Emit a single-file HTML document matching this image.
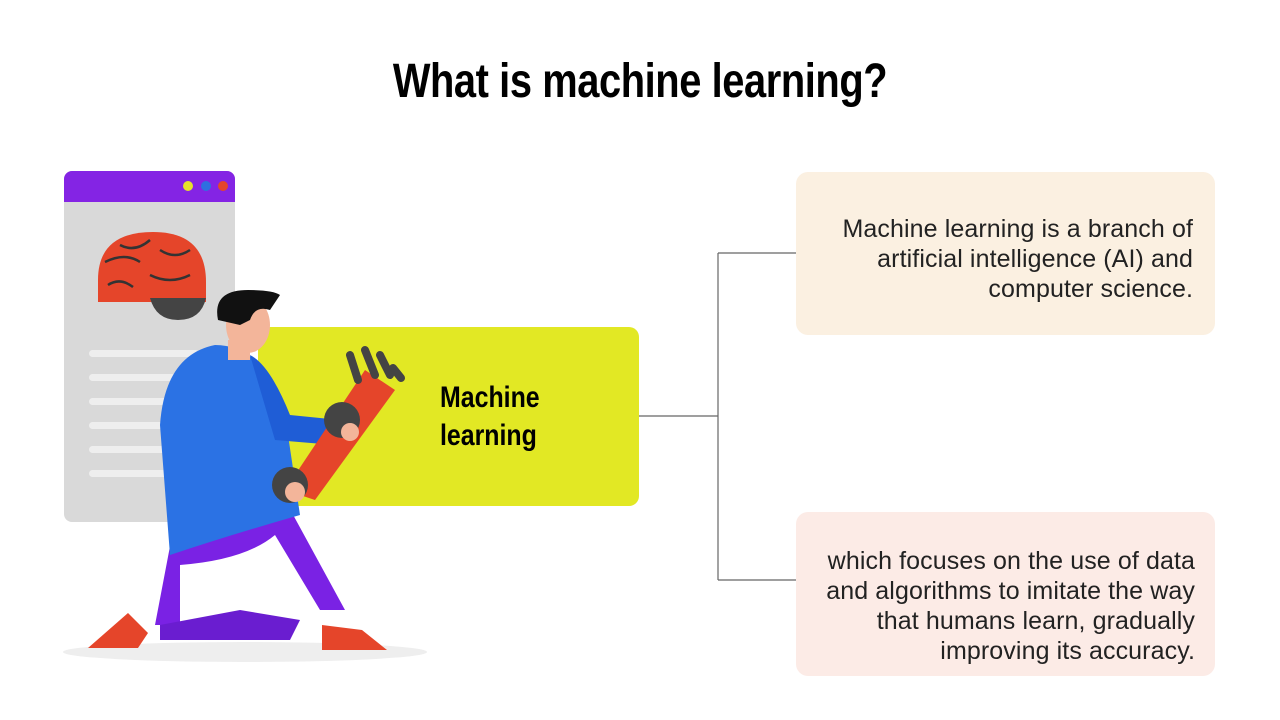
<!DOCTYPE html>
<html><head><meta charset="utf-8"><style>
body{margin:0;width:1280px;height:720px;background:#fff;position:relative;overflow:hidden;font-family:"Liberation Sans",sans-serif}
.t{position:absolute;left:0;width:1280px;top:54px;text-align:center;font-weight:bold;font-size:48px;color:#000;letter-spacing:-0.5px;transform:scaleX(0.83);transform-origin:640px 0}
.box{position:absolute;border-radius:12px}
.txt{position:absolute;text-align:right;font-size:25px;line-height:30px;color:#222;letter-spacing:0.1px}
.ml{position:absolute;left:440px;top:379px;font-weight:bold;font-size:30px;line-height:38px;color:#000;transform:scaleX(0.83);transform-origin:0 0}
</style></head><body>
<div class="t">What is machine learning?</div>
<div class="box" style="left:796px;top:172px;width:419px;height:163px;background:#fbf0e1"></div>
<div class="box" style="left:796px;top:512px;width:419px;height:164px;background:#fcebe6"></div>
<div class="txt" style="right:87px;top:214px">Machine learning is a branch of<br>artificial intelligence (AI) and<br>computer science.</div>
<div class="txt" style="right:85px;top:546px">which focuses on the use of data<br>and algorithms to imitate the way<br>that humans learn, gradually<br>improving its accuracy.</div>
<svg width="1280" height="720" style="position:absolute;left:0;top:0">
<path d="M639 416H718M718 253V580M718 253H796M718 580H796" stroke="#666" stroke-width="1.2" fill="none"/>
<rect x="64" y="171" width="171" height="351" rx="8" fill="#d9d9d9"/>
<path d="M64 179a8 8 0 0 1 8-8h155a8 8 0 0 1 8 8v23H64z" fill="#8424e4"/>
<circle cx="188" cy="186" r="5" fill="#e6e22a"/><circle cx="206" cy="186" r="5" fill="#2f6fe0"/><circle cx="223" cy="186" r="5" fill="#e5452a"/>
<g fill="#eeeeee"><rect x="89" y="350" width="110" height="7" rx="3.5"/><rect x="89" y="374" width="110" height="7" rx="3.5"/><rect x="89" y="398" width="110" height="7" rx="3.5"/><rect x="89" y="422" width="110" height="7" rx="3.5"/><rect x="89" y="446" width="110" height="7" rx="3.5"/><rect x="89" y="470" width="110" height="7" rx="3.5"/></g>
<path d="M98 280q0-48 55-48q53 0 53 50v20h-108z" fill="#e5452a"/>
<path d="M136 298h70q-5 22-28 22q-22 0-28-22z" fill="#444"/>
<path d="M105 262q20-10 35 0M120 245q15 8 30-5M160 250q15 10 30 0M150 275q20 10 40 0M108 285q12-8 25 2" stroke="#333" stroke-width="2.5" fill="none"/>
<rect x="258" y="327" width="381" height="179" rx="10" fill="#e2e824"/>
<ellipse cx="245" cy="652" rx="182" ry="10" fill="#eee"/>
<path d="M175 520q40-15 110-20l60 110h-25l-45-75q-30 25-95 30v60h-25z" fill="#7a22e4"/>
<path d="M160 625l80-15 60 10-10 20h-130z" fill="#6a1dd0"/>
<path d="M88 648l40-35 20 20-10 15z" fill="#e5452a"/>
<path d="M322 625l40 5 25 20h-65z" fill="#e5452a"/>
<path d="M215 345q-50 10-55 80l10 130q60-20 130-40l-15-100q-20-70-70-70z" fill="#2b72e4"/>
<path d="M250 355q20 10 40 60l50 5-5 25-60-5z" fill="#1f5dd6"/>
<path d="M285 490l80-120 30 20-80 110z" fill="#e5452a"/>
<circle cx="342" cy="420" r="18" fill="#444"/><circle cx="290" cy="485" r="18" fill="#444"/>
<path d="M350 355l8 25M365 350l10 25M380 355l10 20M393 368l8 10" stroke="#444" stroke-width="8" stroke-linecap="round"/>
<circle cx="295" cy="492" r="10" fill="#f3b59a"/><circle cx="350" cy="432" r="9" fill="#f3b59a"/>
<rect x="228" y="340" width="22" height="20" fill="#f3b59a"/>
<ellipse cx="248" cy="325" rx="22" ry="28" fill="#f3b59a"/>
<path d="M218 320q-6-30 30-30q25 0 32 5l-10 15q-15-5-20 10l-10 5z" fill="#111"/>
</svg>
<div class="ml">Machine<br>learning</div>
</body></html>
